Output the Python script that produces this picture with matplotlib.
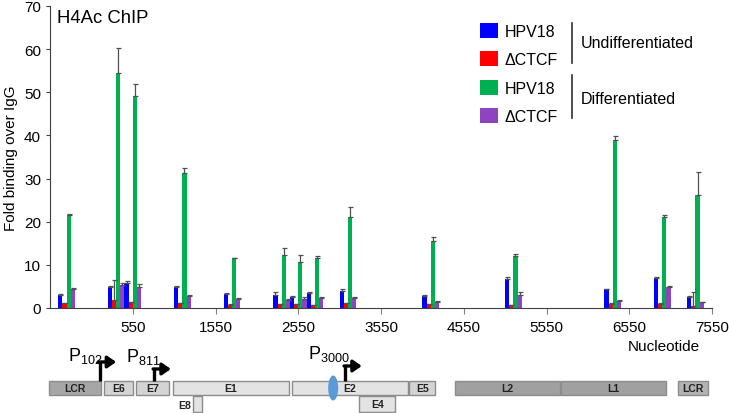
import matplotlib
matplotlib.use('Agg')
import matplotlib.pyplot as plt
import numpy as np
from matplotlib.patches import Rectangle, Ellipse

plt.rcParams['font.family'] = ['Liberation Sans', 'DejaVu Sans']
plt.rcParams['mathtext.fontset'] = 'custom'
plt.rcParams['mathtext.rm'] = 'Liberation Sans'

# primer positions (nt) and fold binding over IgG
positions = [-250, 350, 550, 1150, 1750, 2350, 2550, 2750, 3150, 4150, 5150, 6350, 6950, 7350]
und_hpv = [3.1, 4.9, 5.85, 4.9, 3.2, 3.0, 2.45, 3.4, 4.0, 2.85, 6.7, 4.3, 7.0, 2.45]
und_ctcf = [1.15, 1.8, 1.3, 1.1, 0.8, 0.9, 0.85, 0.7, 1.15, 0.85, 0.6, 1.0, 1.0, 0.45]
dif_hpv = [21.6, 54.4, 49.2, 31.2, 11.5, 12.3, 10.7, 11.7, 21.2, 15.5, 12.1, 38.9, 21.1, 26.1]
dif_ctcf = [4.45, 5.4, 4.85, 2.7, 2.2, 1.85, 2.15, 2.3, 2.3, 1.4, 3.0, 1.7, 4.9, 1.3]
und_hpv_err = [0.2, 0.2, 0.4, 0.3, 0.2, 0.8, 0.35, 0.2, 0.5, 0.1, 0.6, 0.1, 0.1, 0.35]
und_ctcf_err = [0.1, 4.6, 0.1, 0.1, 0.1, 0.1, 0.1, 0.1, 0.1, 0.1, 0.1, 0.1, 0.1, 3.2]
dif_hpv_err = [0.1, 5.9, 2.8, 1.3, 0.1, 1.6, 1.5, 0.4, 2.3, 0.9, 0.5, 1.0, 0.4, 5.5]
dif_ctcf_err = [0.1, 0.3, 0.8, 0.2, 0.1, 0.2, 0.3, 0.3, 0.2, 0.2, 0.7, 0.2, 0.1, 0.2]

series = [und_hpv, und_ctcf, dif_hpv, dif_ctcf]
errors = [und_hpv_err, und_ctcf_err, dif_hpv_err, dif_ctcf_err]
colors = ['#0000ff', '#ff0000', '#00b050', '#8e44bf']
labels = ['HPV18', '\u0394CTCF', 'HPV18', '\u0394CTCF']
xticks = [550, 1550, 2550, 3550, 4550, 5550, 6550, 7550]

# genome map
genes = ['LCR', 'E6', 'E7', 'E1', 'E2', 'E5', 'L2', 'L1', 'LCR']
gene_start = [-467, 206, 589, 1036, 2477, 3893, 4445, 5726, 7143]
gene_end = [170, 552, 994, 2437, 3874, 4204, 5713, 6994, 7505]
gene_color = ['#a6a6a6', '#d4d4d4', '#d4d4d4', '#e3e3e3', '#e3e3e3', '#d4d4d4', '#a0a0a0', '#a0a0a0', '#b3b3b3']
low_genes = ['E8', 'E4']
low_start = [1277, 3289]
low_end = [1389, 3721]
promoters = ['102', '811', '3000']
prom_pos = [149, 810, 3117]
ctcf_site = 2972

fig = plt.figure(figsize=(7.29, 4.14), dpi=100)
ax = fig.add_axes([50/729, 105/414, 662/729, 302/414])

w = 50
pos = np.array(positions)
for i in range(4):
    off = (i - 1.5) * w
    err = [np.zeros(len(pos)), errors[i]]
    ax.bar(pos + off, series[i], width=w, color=colors[i], label=labels[i],
           yerr=err, error_kw=dict(ecolor='#505050', elinewidth=0.9, capsize=1.8, capthick=0.9))

ax.set_xlim(-450, 7550)
ax.set_ylim(0, 70)
ax.set_xticks(xticks)
ax.set_xticklabels([str(t) for t in xticks], fontsize=11)
ax.set_yticks(range(0, 71, 10))
ax.tick_params(axis='y', labelsize=11, length=3, color='#404040')
ax.tick_params(axis='x', length=4, color='#808080', pad=4.5)
ax.spines['top'].set_visible(False)
ax.spines['right'].set_visible(False)
ax.spines['left'].set_color('#404040')
ax.spines['bottom'].set_color('#404040')
ax.set_ylabel('Fold binding over IgG', fontsize=11, labelpad=4)
ax.text(0.011, 0.99, 'H4Ac ChIP', transform=ax.transAxes, fontsize=13.3, va='top', ha='left')
ax.text(6970, -8.8, 'Nucleotide', fontsize=11, ha='center', va='center', clip_on=False)

leg = ax.legend(loc='upper left', bbox_to_anchor=(0.650, 0.945), frameon=False, fontsize=11.5,
                handlelength=1.125, handleheight=1.06, handletextpad=0.4, labelspacing=0.79,
                borderpad=0, borderaxespad=0)
ax.plot([0.7885, 0.7885], [0.945, 0.811], transform=ax.transAxes, color='#303030', lw=1.2, clip_on=False)
ax.plot([0.7885, 0.7885], [0.7715, 0.628], transform=ax.transAxes, color='#303030', lw=1.2, clip_on=False)
ax.text(0.801, 0.879, 'Undifferentiated', transform=ax.transAxes, fontsize=11.5, va='center')
ax.text(0.801, 0.695, 'Differentiated', transform=ax.transAxes, fontsize=11.5, va='center')

# genome map below the chart
mx = fig.add_axes([50/729, 0, 662/729, 74/414])
mx.set_xlim(-450, 7550)
mx.set_ylim(414, 340)
mx.axis('off')
for name, s, e, c in zip(genes, gene_start, gene_end, gene_color):
    mx.add_patch(Rectangle((s, 382), e - s, 14, facecolor=c, edgecolor='#8c8c8c', lw=1, clip_on=False))
    mx.text((s + e) / 2, 389.5, name, ha='center', va='center', fontsize=7.5, fontweight='bold', color='#222222')
for name, s, e in zip(low_genes, low_start, low_end):
    mx.add_patch(Rectangle((s, 397), e - s, 16, facecolor='#e3e3e3', edgecolor='#8c8c8c', lw=1, clip_on=False))
    if name == 'E8':
        mx.text(s - 20, 406, name, ha='right', va='center', fontsize=7.5, fontweight='bold', color='#222222')
    else:
        mx.text((s + e) / 2, 405, name, ha='center', va='center', fontsize=7.5, fontweight='bold', color='#222222')
mx.add_patch(Ellipse((ctcf_site, 389), 121, 25, facecolor='#5b9bd5', edgecolor='none'))

tops = [363, 370, 367]
text_bottom = [366, 367, 364]
text_shift = [36, 80, 60]
for p, x, top, tb, sh in zip(promoters, prom_pos, tops, text_bottom, text_shift):
    mx.plot([x, x], [382, top], color='k', lw=2.4, solid_capstyle='butt')
    mx.annotate('', xy=(x + 200, top), xytext=(x - 14, top),
                arrowprops=dict(arrowstyle='-|>,head_length=0.5,head_width=0.35', lw=2.4, color='k',
                                shrinkA=0, shrinkB=0))
    mx.text(x + sh, tb, r'$\mathregular{P_{%s}}$' % p, ha='right', va='bottom', fontsize=13)

fig.savefig('out.png', dpi=100)
